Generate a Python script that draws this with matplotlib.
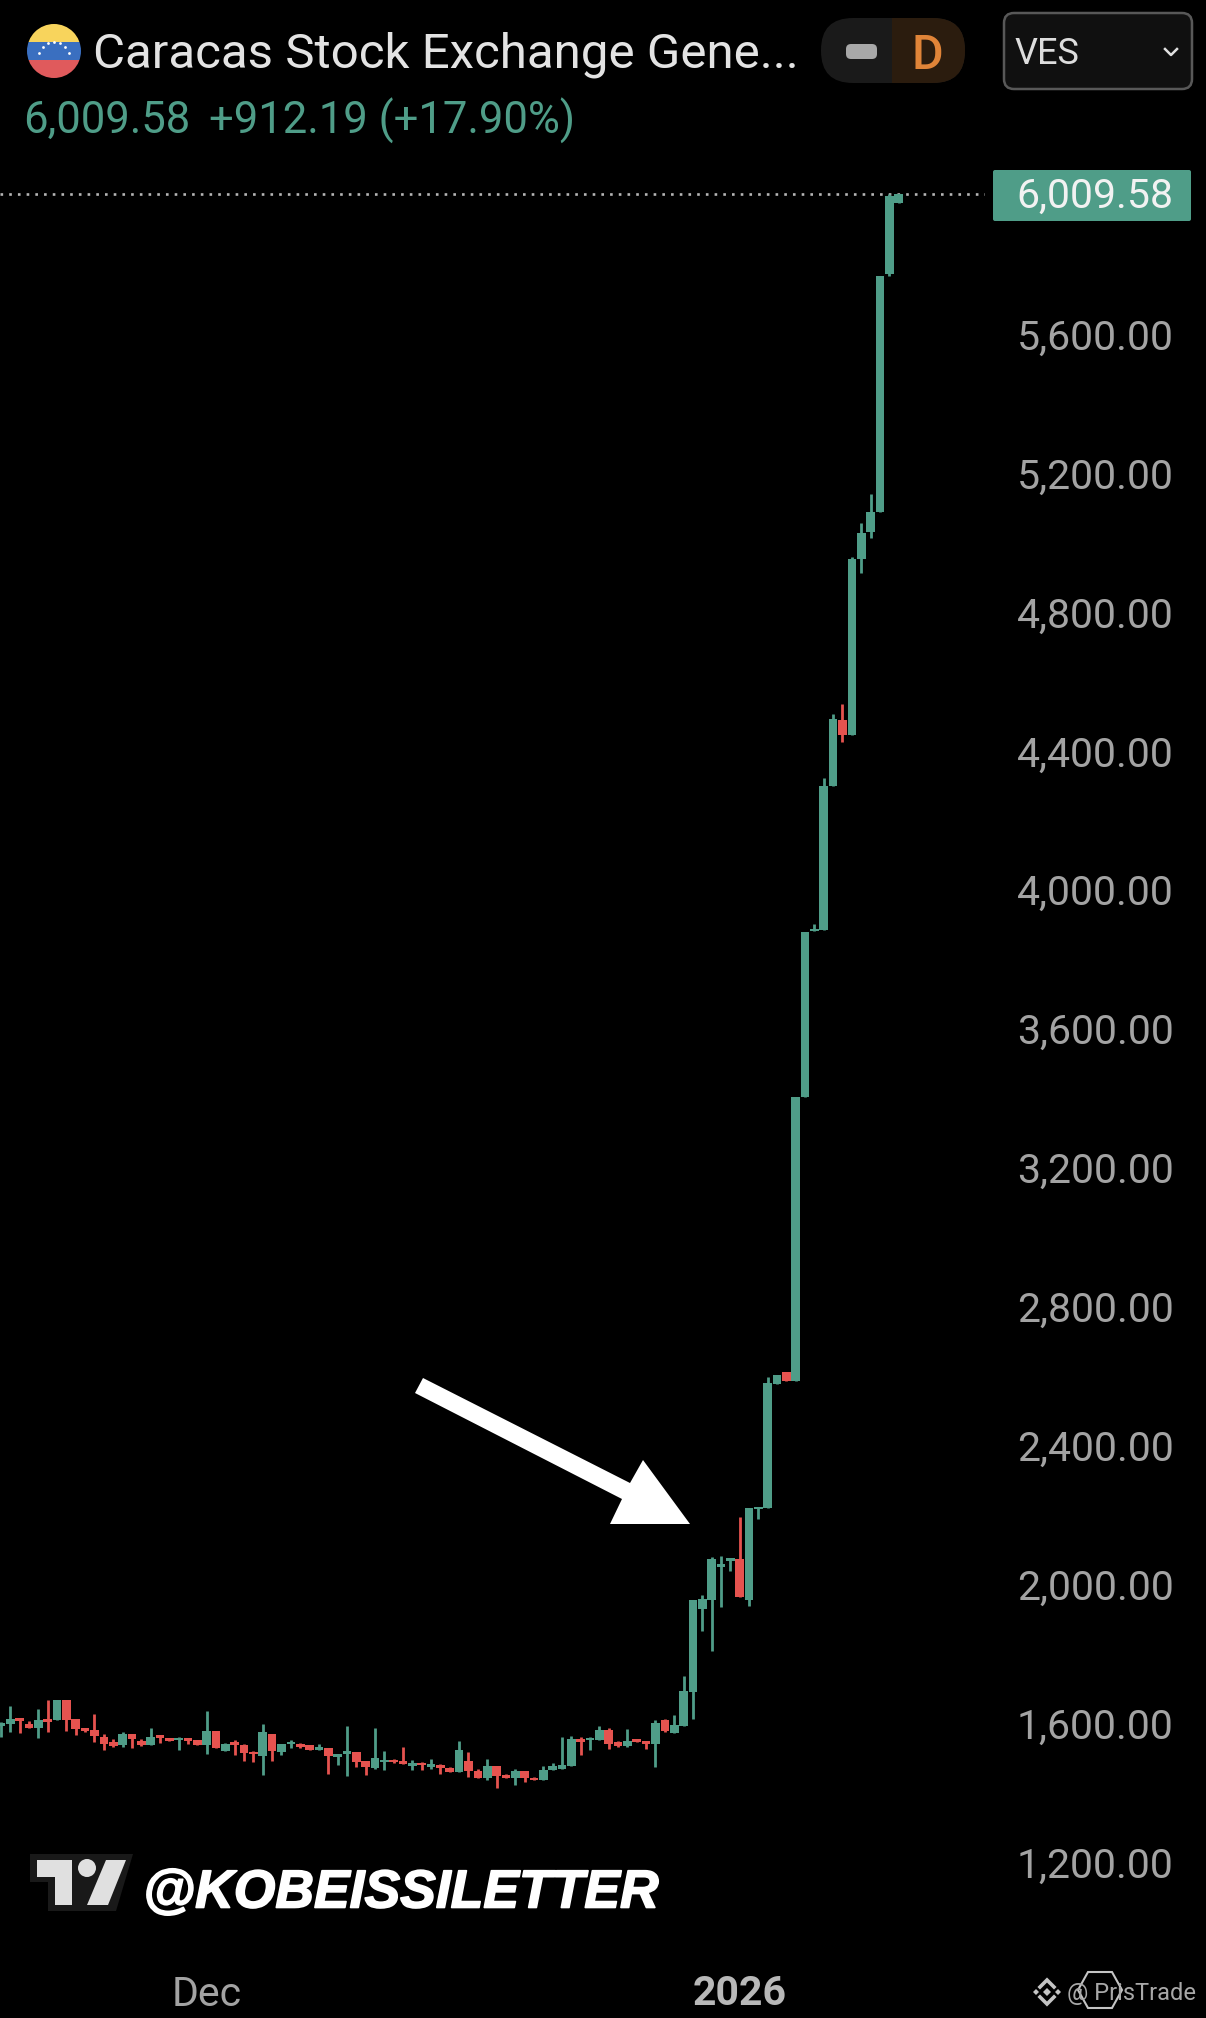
import numpy as np
import matplotlib
matplotlib.use('Agg')  # no display in the sandbox
import matplotlib.pyplot as plt
import matplotlib.patheffects as pe
from matplotlib.patches import Polygon, Circle, FancyBboxPatch, Rectangle
from matplotlib.transforms import ScaledTranslation

# daily candles
opens = [1597, 1603, 1620, 1603, 1592, 1617, 1615, 1672, 1617, 1591,
         1586, 1567, 1552, 1542, 1574, 1555, 1544, 1571, 1564, 1557,
         1564, 1558, 1543, 1584, 1525, 1551, 1543, 1523, 1511, 1574,
         1523, 1546, 1546, 1542, 1528, 1534, 1509, 1517, 1522, 1497,
         1476, 1494, 1499, 1496, 1482, 1492, 1480, 1485, 1477, 1466,
         1497, 1468, 1448, 1482, 1457, 1449, 1467, 1449, 1443, 1472,
         1475, 1482, 1560, 1556, 1557, 1586, 1552, 1540, 1559, 1553,
         1545, 1615, 1577, 1597, 1694, 1934, 1960, 2056, 2074, 2078,
         1960, 2222, 2225, 2583, 2618, 2592, 3410, 3887, 3890, 4305,
         4494, 4452, 4959, 5035, 5093, 5779, 5985]
highs = [1610, 1656, 1620, 1612, 1646, 1672, 1672, 1672, 1619, 1592,
         1632, 1574, 1559, 1580, 1574, 1561, 1593, 1571, 1564, 1566,
         1564, 1558, 1641, 1584, 1548, 1557, 1547, 1525, 1603, 1574,
         1547, 1557, 1548, 1543, 1545, 1534, 1517, 1597, 1522, 1497,
         1593, 1525, 1502, 1537, 1499, 1494, 1502, 1488, 1478, 1554,
         1522, 1473, 1502, 1482, 1459, 1473, 1468, 1450, 1482, 1491,
         1566, 1569, 1566, 1566, 1597, 1592, 1554, 1589, 1561, 1554,
         1615, 1617, 1629, 1741, 1960, 1975, 2085, 2087, 2080, 2200,
         2225, 2229, 2602, 2609, 2618, 3410, 3884, 3907, 4329, 4512,
         4540, 4965, 5061, 5146, 5773, 6009, 6009.58]
lows = [1567, 1580, 1576, 1593, 1563, 1580, 1615, 1583, 1571, 1580,
        1551, 1528, 1536, 1536, 1534, 1540, 1544, 1549, 1554, 1528,
        1547, 1543, 1517, 1534, 1525, 1513, 1497, 1494, 1456, 1497,
        1515, 1535, 1535, 1528, 1528, 1458, 1484, 1454, 1480, 1456,
        1474, 1471, 1490, 1488, 1471, 1471, 1473, 1459, 1466, 1466,
        1450, 1448, 1442, 1419, 1449, 1427, 1436, 1443, 1443, 1472,
        1473, 1482, 1513, 1528, 1557, 1531, 1536, 1538, 1551, 1531,
        1479, 1581, 1577, 1597, 1619, 1872, 1814, 1941, 2044, 1970,
        1943, 2195, 2225, 2583, 2591, 2592, 3410, 3887, 3890, 4305,
        4432, 4452, 4919, 5018, 5093, 5774, 5985]
closes = [1605, 1617, 1613, 1593, 1615, 1610, 1672, 1615, 1588, 1582,
          1569, 1547, 1540, 1574, 1559, 1542, 1566, 1564, 1554, 1562,
          1555, 1543, 1583, 1534, 1546, 1542, 1519, 1517, 1580, 1526,
          1546, 1552, 1536, 1528, 1536, 1511, 1516, 1525, 1494, 1480,
          1505, 1497, 1494, 1488, 1490, 1484, 1488, 1476, 1466, 1528,
          1468, 1449, 1481, 1453, 1449, 1468, 1448, 1443, 1471, 1481,
          1485, 1560, 1551, 1562, 1586, 1547, 1540, 1555, 1551, 1545,
          1606, 1583, 1600, 1697, 1960, 1963, 2078, 2063, 2079, 1970,
          2225, 2229, 2585, 2609, 2591, 3410, 3884, 3894, 4306, 4497,
          4452, 4958, 5032, 5093, 5773, 6005, 6009.58]

price_ticks = [5600, 5200, 4800, 4400, 4000, 3600, 3200, 2800, 2400, 2000, 1600, 1200]
date_ticks = [22, 79]
date_labels = ['Dec', '2026']
last_price = 6009.58

GREEN = '#4f9d88'
RED = '#e5534f'
GREY = '#a3a3a3'
FONT = 'Roboto'
W, H = 1206, 2018

fig = plt.figure(figsize=(W / 100, H / 100), dpi=100, facecolor='black')

# price pane, placed so the axis matches the 1206x2018 layout
pane_right, pane_top, pane_bottom = 985, 130, 1960
ax = fig.add_axes([0, 1 - pane_bottom / H, pane_right / W, (pane_bottom - pane_top) / H])
ax.set_facecolor('black')
for s in ax.spines.values():
    s.set_visible(False)

ax.set_xlim(-1 / 9.35, (pane_right - 1) / 9.35)
ax.set_ylim(1200 - (pane_bottom - 1864) * 2.88, 1200 + (1864 - pane_top) * 2.88)

idx = np.arange(len(opens))
o, h, l, c = map(np.array, (opens, highs, lows, closes))
up = c >= o
colors = [GREEN if u else RED for u in up]

ax.axhline(last_price, color='#b5b5b5', lw=1.9, dashes=(1, 2.3), zorder=1)
ax.vlines(idx, l, h, colors=colors, lw=2.0, zorder=2)
ax.bar(idx, np.maximum(np.abs(c - o), 6), bottom=np.minimum(o, c), width=0.93,
       color=colors, linewidth=0, zorder=3)

ax.yaxis.tick_right()
ax.set_yticks(price_ticks)
ax.set_yticklabels([f'{p:,.2f}' for p in price_ticks], fontsize=29.5, color=GREY,
                   fontfamily=FONT, va='center_baseline')
ax.tick_params(axis='y', length=0, pad=23)
# labels sit a touch above their tick value in the app
nudge = ScaledTranslation(0, 2 / 100, fig.dpi_scale_trans)
for lab in ax.get_yticklabels():
    lab.set_transform(lab.get_transform() + nudge)
ax.set_xticks(date_ticks)
ax.set_xticklabels(date_labels, fontsize=29.5, color=GREY, fontfamily=FONT)
ax.get_xticklabels()[1].set_fontweight('bold')
ax.get_xticklabels()[1].set_color('#b8b8b8')
ax.tick_params(axis='x', length=0, pad=11)

# overlay in pixels for the app header, arrow and watermarks
ui = fig.add_axes([0, 0, 1, 1], facecolor='none')
ui.set_xlim(0, W)
ui.set_ylim(H, 0)
ui.axis('off')

# flag
flag = Circle((54, 51), 27, transform=ui.transData)
for y0, y1, col in [(24, 42, '#f8d45c'), (42, 60, '#3a6fc0'), (60, 78, '#e05a5c')]:
    r = ui.add_patch(Rectangle((20, y0), 70, y1 - y0, color=col, lw=0))
    r.set_clip_path(flag)
star_x = [39, 43, 48, 54, 60, 65, 69]
star_y = [53, 47, 43, 42, 43, 47, 53]
ui.scatter(star_x, star_y, s=4, color='white', lw=0)

ui.text(93, 50, 'Caracas Stock Exchange Gene...', fontsize=35.5, color='#e3e3e3',
        fontfamily=FONT, va='center_baseline')
ui.text(23, 116, '6,009.58', fontsize=31.4, color=GREEN, fontfamily=FONT, va='center_baseline')
ui.text(209, 116, '+912.19 (+17.90%)', fontsize=31.4, color=GREEN, fontfamily=FONT,
        va='center_baseline')

# interval toggle
pill = FancyBboxPatch((821 + 32, 18 + 32), 144 - 64, 65 - 64,
                      boxstyle='round,pad=32', fc='#1a1a1a', ec='none')
ui.add_patch(pill)
r = ui.add_patch(Rectangle((892, 18), 80, 65, color='#2b1c0e', lw=0))
r.set_clip_path(pill)
ui.add_patch(FancyBboxPatch((851, 49), 21, 5, boxstyle='round,pad=5', fc='#a8a8a8', ec='none'))
ui.text(927, 51, 'D', fontsize=35, color='#e08438', fontfamily=FONT, ha='center',
        va='center_baseline', fontweight='medium')

# currency box
ui.add_patch(FancyBboxPatch((1014, 23), 168, 56, boxstyle='round,pad=10',
                            fc='#101010', ec='#585858', lw=1.8))
ui.text(1014, 50, 'VES', fontsize=26, color='#dddddd', fontfamily=FONT, va='center_baseline')
ui.plot([1165, 1171, 1177], [49, 55, 49], color='#e0e0e0', lw=1.8)

# last price tag
ui.add_patch(FancyBboxPatch((995, 172), 194, 47, boxstyle='round,pad=2', fc=GREEN, ec='none'))
ui.text(1095, 192.5, '6,009.58', fontsize=29.5, color='#f2f2f2', fontfamily=FONT, ha='center',
        va='center_baseline')

# arrow
ui.add_patch(Polygon([(423, 1378), (630, 1483), (643, 1460), (690, 1524), (610, 1524),
                      (622, 1499), (415, 1393)], fc='white', ec='none'))

# tradingview logo and handle
ui.add_patch(Polygon([(30, 1854), (133, 1854), (116, 1911), (48, 1911), (48, 1882), (30, 1882)],
                     fc='#191919', ec='none'))
ui.add_patch(Polygon([(37, 1860), (72, 1860), (72, 1905), (55, 1905), (55, 1877), (37, 1877)],
                     fc='#e0e0e0', ec='none'))
ui.add_patch(Circle((87, 1868), 9, fc='#e0e0e0', ec='none'))
ui.add_patch(Polygon([(126, 1860), (106, 1860), (87, 1905), (108, 1905)], fc='#e0e0e0', ec='none'))
ui.text(143, 1907.5, '@KOBEISSILETTER', fontsize=38.5, color='white', fontfamily='Liberation Sans',
        fontweight='bold', fontstyle='italic', va='baseline',
        path_effects=[pe.withStroke(linewidth=1.2, foreground='white')])

# exchange watermark
for cx, cy, rr in [(1047, 1992, 4), (1036, 1992, 3), (1058, 1992, 3)]:
    ui.add_patch(Polygon([(cx, cy - rr), (cx + rr, cy), (cx, cy + rr), (cx - rr, cy)],
                         fc='#c4c4c4', ec='none'))
ui.plot([1040, 1047, 1054], [1987, 1980, 1987], color='#c4c4c4', lw=2.6, solid_joinstyle='miter')
ui.plot([1040, 1047, 1054], [1997, 2004, 1997], color='#c4c4c4', lw=2.6, solid_joinstyle='miter')
ui.text(1067, 1991, '@ PrisTrade', fontsize=17, color='#a8a8a8', fontfamily=FONT,
        va='center_baseline')
ui.add_patch(Polygon([(1088, 1972), (1112, 1972), (1122, 1990), (1112, 2008), (1088, 2008),
                      (1078, 1990)], fc='none', ec='#c4c4c4', lw=1.5))

fig.savefig('out.png', dpi=100, facecolor='black')
